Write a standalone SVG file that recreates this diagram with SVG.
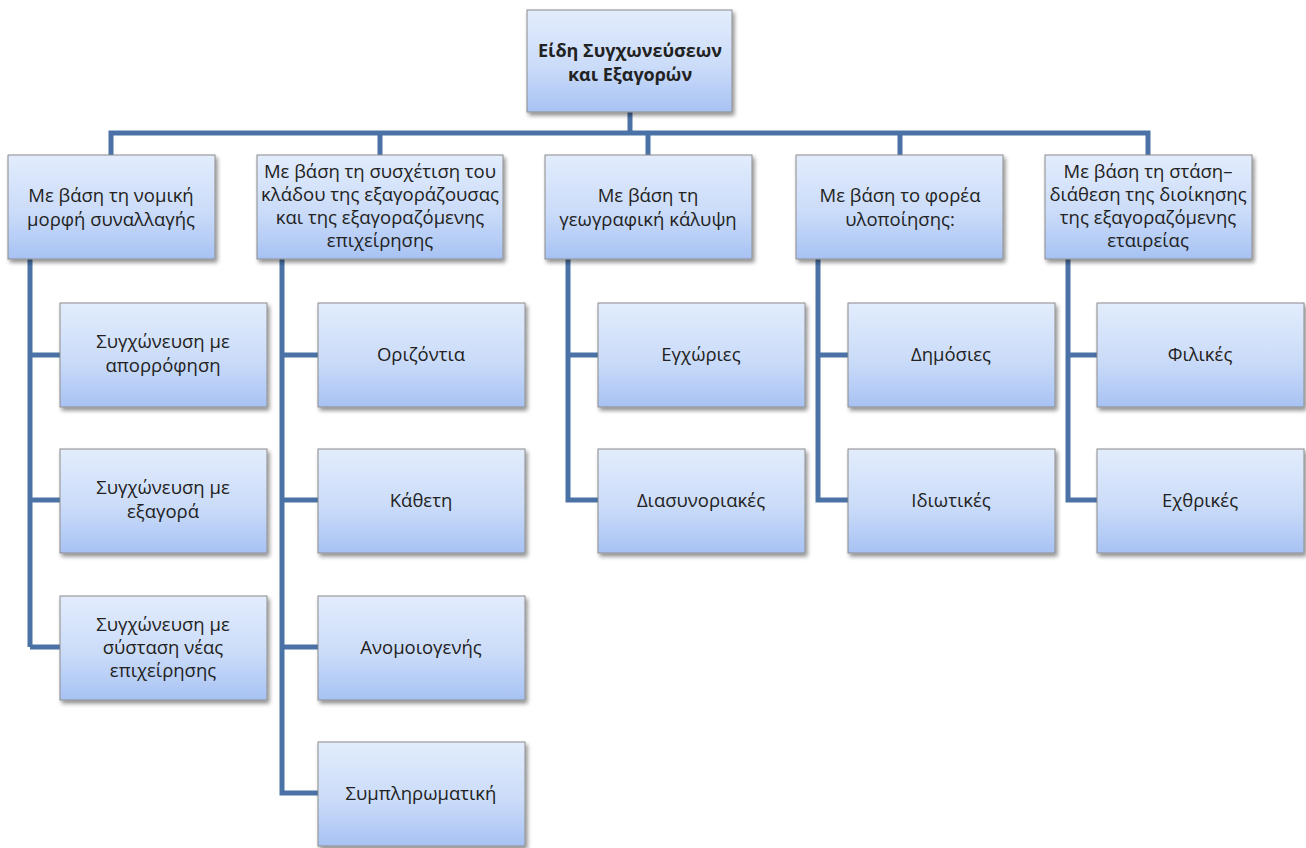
<svg xmlns="http://www.w3.org/2000/svg" width="1306" height="848" viewBox="0 0 1306 848">
  <defs>
    <linearGradient id="boxFill" x1="0" y1="0" x2="0" y2="1">
      <stop offset="0" stop-color="#e2ecfc"/>
      <stop offset="0.55" stop-color="#cbdcf9"/>
      <stop offset="1" stop-color="#a7c2f3"/>
    </linearGradient>
    <filter id="shadow" x="-10%" y="-10%" width="125%" height="130%">
      <feGaussianBlur in="SourceAlpha" stdDeviation="2"/>
      <feOffset dx="2" dy="3" result="b"/>
      <feComponentTransfer><feFuncA type="linear" slope="0.45"/></feComponentTransfer>
      <feMerge><feMergeNode/><feMergeNode in="SourceGraphic"/></feMerge>
    </filter>
  </defs>
  <style>
    .box { fill: url(#boxFill); stroke: #8c8c8c; stroke-width: 1; filter: url(#shadow); }
    .lbl { font-family: "Open Sans", "Noto Sans", sans-serif; font-size: 18.5px; fill: #222; text-anchor: middle; }
    .root { font-weight: bold; font-size: 18px; }
    .wire { fill: none; stroke: #4a72a6; stroke-width: 5; stroke-linejoin: miter; }
  </style>
  <rect width="1306" height="848" fill="#ffffff"/>

  <!-- connectors -->
  <g id="connectors" class="wire">
    <path d="M630 112 V133 M111 155 V133 H1148 V155 M380 133 V155 M648 133 V155 M900 133 V155"/>
    <path d="M30 259 V647 M30 355 H60 M30 500 H60 M30 647 H60"/>
    <path d="M282 259 V793 H318 M282 355 H318 M282 500 H318 M282 647 H318"/>
    <path d="M568 259 V500 H598 M568 355 H598"/>
    <path d="M818 259 V500 H848 M818 355 H848"/>
    <path d="M1068 259 V500 H1097 M1068 355 H1097"/>
  </g>

  <!-- root -->
  <g id="root">
    <rect class="box" x="527" y="10" width="205" height="102"/>
    <text class="lbl root" x="630" y="57">Είδη Συγχωνεύσεων</text>
    <text class="lbl root" x="630" y="81">και Εξαγορών</text>
  </g>

  <!-- categories -->
  <g id="cat-legal">
    <rect class="box" x="8" y="155" width="207" height="104"/>
    <text class="lbl" x="111" y="202">Με βάση τη νομική</text>
    <text class="lbl" x="111" y="226">μορφή συναλλαγής</text>
  </g>
  <g id="cat-sector">
    <rect class="box" x="257" y="155" width="246" height="104"/>
    <text class="lbl" x="380" y="178">Με βάση τη συσχέτιση του</text>
    <text class="lbl" x="380" y="201">κλάδου της εξαγοράζουσας</text>
    <text class="lbl" x="380" y="224">και της εξαγοραζόμενης</text>
    <text class="lbl" x="380" y="247">επιχείρησης</text>
  </g>
  <g id="cat-geo">
    <rect class="box" x="545" y="155" width="207" height="104"/>
    <text class="lbl" x="648" y="202">Με βάση τη</text>
    <text class="lbl" x="648" y="226">γεωγραφική κάλυψη</text>
  </g>
  <g id="cat-carrier">
    <rect class="box" x="796" y="155" width="207" height="104"/>
    <text class="lbl" x="900" y="202">Με βάση το φορέα</text>
    <text class="lbl" x="900" y="226">υλοποίησης:</text>
  </g>
  <g id="cat-stance">
    <rect class="box" x="1045" y="155" width="207" height="104"/>
    <text class="lbl" x="1148" y="178">Με βάση τη στάση–</text>
    <text class="lbl" x="1148" y="201">διάθεση της διοίκησης</text>
    <text class="lbl" x="1148" y="224">της εξαγοραζόμενης</text>
    <text class="lbl" x="1148" y="247">εταιρείας</text>
  </g>

  <!-- column 1 -->
  <g id="merge-absorb">
    <rect class="box" x="60" y="303" width="207" height="104"/>
    <text class="lbl" x="163" y="348">Συγχώνευση με</text>
    <text class="lbl" x="163" y="372">απορρόφηση</text>
  </g>
  <g id="merge-acquire">
    <rect class="box" x="60" y="449" width="207" height="104"/>
    <text class="lbl" x="163" y="494">Συγχώνευση με</text>
    <text class="lbl" x="163" y="518">εξαγορά</text>
  </g>
  <g id="merge-new">
    <rect class="box" x="60" y="596" width="207" height="104"/>
    <text class="lbl" x="163" y="631">Συγχώνευση με</text>
    <text class="lbl" x="163" y="654">σύσταση νέας</text>
    <text class="lbl" x="163" y="677">επιχείρησης</text>
  </g>

  <!-- column 2 -->
  <g id="horizontal">
    <rect class="box" x="318" y="303" width="207" height="104"/>
    <text class="lbl" x="421" y="361">Οριζόντια</text>
  </g>
  <g id="vertical">
    <rect class="box" x="318" y="449" width="207" height="104"/>
    <text class="lbl" x="421" y="507">Κάθετη</text>
  </g>
  <g id="conglomerate">
    <rect class="box" x="318" y="596" width="207" height="104"/>
    <text class="lbl" x="421" y="654">Ανομοιογενής</text>
  </g>
  <g id="complementary">
    <rect class="box" x="318" y="742" width="207" height="104"/>
    <text class="lbl" x="421" y="800">Συμπληρωματική</text>
  </g>

  <!-- column 3 -->
  <g id="domestic">
    <rect class="box" x="598" y="303" width="207" height="104"/>
    <text class="lbl" x="701" y="361">Εγχώριες</text>
  </g>
  <g id="crossborder">
    <rect class="box" x="598" y="449" width="207" height="104"/>
    <text class="lbl" x="701" y="507">Διασυνοριακές</text>
  </g>

  <!-- column 4 -->
  <g id="public">
    <rect class="box" x="848" y="303" width="207" height="104"/>
    <text class="lbl" x="951" y="361">Δημόσιες</text>
  </g>
  <g id="private">
    <rect class="box" x="848" y="449" width="207" height="104"/>
    <text class="lbl" x="951" y="507">Ιδιωτικές</text>
  </g>

  <!-- column 5 -->
  <g id="friendly">
    <rect class="box" x="1097" y="303" width="207" height="104"/>
    <text class="lbl" x="1200" y="361">Φιλικές</text>
  </g>
  <g id="hostile">
    <rect class="box" x="1097" y="449" width="207" height="104"/>
    <text class="lbl" x="1200" y="507">Εχθρικές</text>
  </g>
</svg>
